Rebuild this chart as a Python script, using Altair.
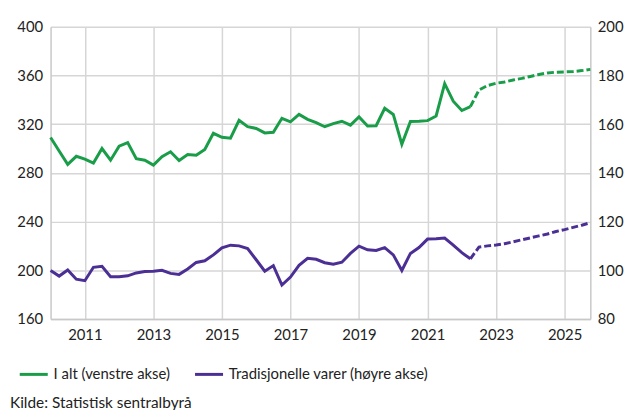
import altair as alt
import pandas as pd

# Quarterly periods
years = list(range(2010, 2026))
quarters = [1, 2, 3, 4]

# I alt (venstre akse) – actual 2010K1–2022K2
ialt_actual = [309, 298, 287, 293.6,
               291.2, 288, 300, 290.4,
               301.9, 304.8, 291.7, 290.4,
               286.4, 293.3, 297.3, 290.1,
               295, 294.4, 299.2, 312.5,
               309.2, 308.5, 323.2, 317.9,
               316.5, 312.8, 313.3, 324.8,
               321.9, 328, 324, 321.3,
               317.9, 320.5, 322.4, 319.2,
               325.9, 318.4, 318.7, 333,
               328, 303.5, 322.2, 322.4,
               322.9, 326.7, 353.3, 338.9,
               331.2, 334.4]
# forecast 2022K3–2025K4
ialt_fc = [348, 351.7, 353.6, 354.7, 356.3, 357.6, 359.2, 360.8,
           362.1, 362.7, 362.9, 363.2, 364, 365]

# Tradisjonelle varer (høyre akse)
trad_actual = [99.9, 97.6, 100.1, 96.3,
               95.7, 101.2, 101.6, 97.3,
               97.3, 97.7, 98.9, 99.5,
               99.6, 100, 98.7, 98.3,
               100.5, 103.2, 103.9, 106.3,
               109.2, 110.3, 110, 108.9,
               104.3, 99.6, 101.9, 93.9,
               97.2, 102, 104.9, 104.5,
               103.1, 102.5, 103.3, 106.9,
               109.9, 108.4, 108.1, 109.3,
               106.3, 99.9, 106.9, 109.3,
               112.8, 112.9, 113.2, 110.3,
               107.2, 104.7]
trad_fc = [109.5, 110, 110.4, 110.9, 111.7, 112.5, 113.3, 114.1,
           114.9, 115.9, 116.7, 117.6, 118.5, 119.5]

x_ticks = [2011, 2013, 2015, 2017, 2019, 2021, 2023, 2025]
left_ticks = [160, 200, 240, 280, 320, 360, 400]
right_ticks = [80, 100, 120, 140, 160, 180, 200]

S1 = "I alt (venstre akse)"
S2 = "Tradisjonelle varer (høyre akse)"
GREEN = "#1a9d49"
PURPLE = "#4b2f95"

periods = [y + (q - 1) / 4 for y in years for q in quarters]
n_act = len(ialt_actual)

g_act = pd.DataFrame({"t": periods[:n_act], "v": ialt_actual, "s": S1})
g_fc = pd.DataFrame({"t": periods[n_act - 1:], "v": [ialt_actual[-1]] + ialt_fc})
p_act = pd.DataFrame({"t": periods[:n_act], "v": trad_actual, "s": S2})
p_fc = pd.DataFrame({"t": periods[n_act - 1:], "v": [trad_actual[-1]] + trad_fc})

FONT = "Lato"
GRID = "#d6d6d6"
LBL = 15

xenc = alt.X("t:Q", scale=alt.Scale(domain=[2010, 2025.75], nice=False, zero=False),
             axis=alt.Axis(values=x_ticks, format="d", title=None, grid=True,
                           gridColor=GRID, gridWidth=1.5, ticks=False,
                           domain=True, domainColor="#c8c8c8", domainWidth=1.5,
                           labelPadding=9, labelFontSize=LBL, labelColor="#222222",
                           labelFont=FONT))

color = alt.Color("s:N", scale=alt.Scale(domain=[S1, S2], range=[GREEN, PURPLE]),
                  legend=alt.Legend(title=None, orient="none", direction="horizontal",
                                    legendX=-33, legendY=335,
                                    symbolType="stroke", symbolSize=800,
                                    symbolStrokeWidth=3, labelFontSize=15,
                                    labelFont=FONT, labelColor="#222222",
                                    labelOffset=4, columnPadding=18,
                                    labelLimit=400))

yl_scale = alt.Scale(domain=[160, 400], nice=False, zero=False)
yr_scale = alt.Scale(domain=[80, 200], nice=False, zero=False)

yl_axis = alt.Axis(values=left_ticks, title=None, grid=True, gridColor=GRID,
                   gridWidth=1.5, ticks=False, domain=True, domainColor="#c8c8c8",
                   domainWidth=1.5, labelPadding=8, labelFontSize=LBL,
                   labelColor="#222222", labelFont=FONT, orient="left")
yr_axis = alt.Axis(values=right_ticks, title=None, grid=False, ticks=False,
                   domain=True, domainColor="#c8c8c8", domainWidth=1.5,
                   labelPadding=7, labelFontSize=LBL, labelColor="#222222",
                   labelFont=FONT, orient="right")

green_act = alt.Chart(g_act).mark_line(strokeWidth=3).encode(
    x=xenc, y=alt.Y("v:Q", scale=yl_scale, axis=yl_axis), color=color)
green_fc = alt.Chart(g_fc).mark_line(strokeWidth=3, color=GREEN, strokeDash=[7, 3]).encode(
    x="t:Q", y=alt.Y("v:Q"))
purple_act = alt.Chart(p_act).mark_line(strokeWidth=3).encode(
    x=xenc, y=alt.Y("v:Q", scale=yr_scale, axis=yr_axis), color=color)
purple_fc = alt.Chart(p_fc).mark_line(strokeWidth=3, color=PURPLE, strokeDash=[7, 3]).encode(
    x="t:Q", y=alt.Y("v:Q"))

source = alt.Chart(pd.DataFrame({"txt": ["Kilde: Statistisk sentralbyrå"]})).mark_text(
    align="left", baseline="middle", fontSize=15.5, font=FONT, color="#222222"
).encode(text="txt:N", x=alt.value(-41), y=alt.value(380))

chart = alt.layer(
    alt.layer(green_act, green_fc),
    alt.layer(purple_act, purple_fc),
    source,
).resolve_scale(y="independent").properties(
    width=545, height=295,
    autosize=alt.AutoSizeParams(type="none"),
    padding={"left": 43, "top": 17, "right": 34, "bottom": 90},
).configure_view(stroke=None)

chart.save("out.html", embed_options={"renderer": "svg", "actions": False})
